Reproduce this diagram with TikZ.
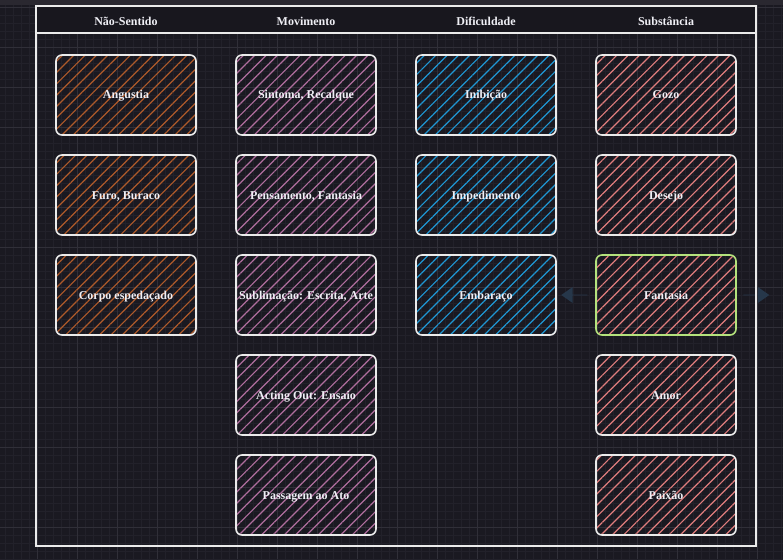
\documentclass[tikz,border=0pt]{standalone}
\usepackage{fontspec}
\setmainfont{Liberation Serif}
\usetikzlibrary{patterns.meta, shapes.arrows}
\definecolor{bgdark}{HTML}{1A1921}
\definecolor{hdrfill}{HTML}{18171E}
\definecolor{topband}{HTML}{2A2830}
\definecolor{gridminor}{HTML}{22212A}
\definecolor{gridmajor}{HTML}{302F38}
\definecolor{hachorange}{HTML}{AE5A2A}
\definecolor{hachmauve}{HTML}{B06E9E}
\definecolor{hachblue}{HTML}{1F97D4}
\definecolor{hachsalmon}{HTML}{E07D7D}
\definecolor{selgreen}{HTML}{B4E27C}
\definecolor{navarrow}{HTML}{26374A}
\definecolor{txtlight}{HTML}{EFEFF5}
\tikzset{
  gridfine/.style  = {draw=gridminor, line width=0.5pt},
  gridbold/.style  = {draw=gridmajor, line width=0.7pt},
  hdr/.style       = {font=\bfseries\fontsize{12}{14}\selectfont, text=txtlight},
  %% Box presets
  cellbox/.style   = {draw=white!92!black, line width=1.6pt, rounded corners=6pt,
                      minimum width=140pt, minimum height=80pt, inner sep=0pt,
                      text height=8pt, text depth=0pt,
                      font=\bfseries\fontsize{12}{14}\selectfont, text=txtlight},
  nsbox/.style     = {cellbox, pattern={Lines[angle=45, distance=8pt, line width=1.2pt]}, pattern color=hachorange},
  mvbox/.style     = {cellbox, pattern={Lines[angle=45, distance=8pt, line width=1.2pt]}, pattern color=hachmauve},
  dfbox/.style     = {cellbox, pattern={Lines[angle=45, distance=8pt, line width=1.2pt]}, pattern color=hachblue},
  sbbox/.style     = {cellbox, pattern={Lines[angle=45, distance=8pt, line width=1.2pt]}, pattern color=hachsalmon},
  navarr/.style    = {single arrow, fill=navarrow, draw=none, inner sep=0pt,
                      minimum width=16pt, minimum height=26pt,
                      single arrow head extend=4.5pt, single arrow tip angle=70},
}
\begin{document}
\begin{tikzpicture}[x=1pt, y=-1pt]

\useasboundingbox (0,0) rectangle (783,559);

%% ---- background and grid ----
\fill[bgdark] (0,0) rectangle (783,559);
\foreach \gx in {-3,5,...,789} \draw[gridfine] (\gx,0) -- (\gx,559);
\foreach \gy in {-1,7,...,559} \draw[gridfine] (0,\gy) -- (783,\gy);
\foreach \gx in {37,77,...,757} \draw[gridbold] (\gx,0) -- (\gx,559);
\foreach \gy in {7,47,...,527} \draw[gridbold] (0,\gy) -- (783,\gy);
\fill[topband] (0,0) rectangle (783,5);
\fill[hdrfill] (36,6) rectangle (756,33);

%% ---- header row ----
\node[hdr] (hNS) at (126,21) {Não-Sentido};
\node[hdr] (hMV) at (306,21) {Movimento};
\node[hdr] (hDF) at (486,21) {Dificuldade};
\node[hdr] (hSB) at (666,21) {Substância};

%% ---- (1) Não-Sentido ----
\node[nsbox] (angustia) at (126,95)  {Angustia};
\node[nsbox] (furo)     at (126,195) {Furo, Buraco};
\node[nsbox] (corpo)    at (126,295) {Corpo espedaçado};

%% ---- (2) Movimento ----
\node[mvbox] (sintoma)     at (306,95)  {Sintoma, Recalque};
\node[mvbox] (pensamento)  at (306,195) {Pensamento, Fantasia};
\node[mvbox] (sublimacao)  at (306,295) {Sublimação: Escrita, Arte};
\node[mvbox] (actingout)   at (306,395) {Acting Out: Ensaio};
\node[mvbox] (passagem)    at (306,495) {Passagem ao Ato};

%% ---- (3) Dificuldade ----
\node[dfbox] (inibicao)    at (486,95)  {Inibição};
\node[dfbox] (impedimento) at (486,195) {Impedimento};
\node[dfbox] (embaraco)    at (486,295) {Embaraço};

%% ---- (4) Substância ----
\node[sbbox] (gozo)     at (666,95)  {Gozo};
\node[sbbox] (desejo)   at (666,195) {Desejo};
\node[sbbox, draw=selgreen] (fantasia) at (666,295) {Fantasia};
\node[sbbox] (amor)     at (666,395) {Amor};
\node[sbbox] (paixao)   at (666,495) {Paixão};

%% ---- side arrows at the selected box ----
\node[navarr, shape border rotate=180] (arrleft)  at (574.5,295) {};
\node[navarr]                          (arrright) at (756,295)   {};

%% ---- table frame ----
\draw[white!92!black, line width=1.8pt] (36,6) rectangle (756,546);
\draw[white!92!black, line width=1.8pt] (36,33) -- (756,33);

\end{tikzpicture}
\end{document}
